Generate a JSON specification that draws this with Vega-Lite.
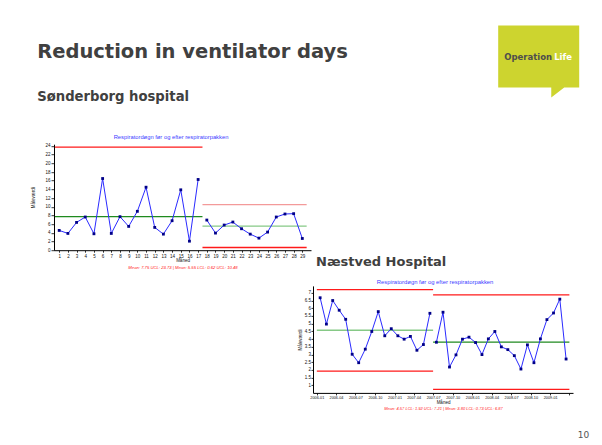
{
  "$schema": "https://vega.github.io/schema/vega-lite/v6.json",
  "padding": {"left": 30, "top": 15.5, "right": 5, "bottom": 0},
  "background": "white",
  "datasets": {
    "sData": [
      {"month": 1, "value": 4.55, "phase": "før"},
      {"month": 2, "value": 3.86, "phase": "før"},
      {"month": 3, "value": 6.4, "phase": "før"},
      {"month": 4, "value": 7.64, "phase": "før"},
      {"month": 5, "value": 3.78, "phase": "før"},
      {"month": 6, "value": 16.5, "phase": "før"},
      {"month": 7, "value": 3.86, "phase": "før"},
      {"month": 8, "value": 7.72, "phase": "før"},
      {"month": 9, "value": 5.48, "phase": "før"},
      {"month": 10, "value": 8.95, "phase": "før"},
      {"month": 11, "value": 14.5, "phase": "før"},
      {"month": 12, "value": 5.25, "phase": "før"},
      {"month": 13, "value": 3.7, "phase": "før"},
      {"month": 14, "value": 6.79, "phase": "før"},
      {"month": 15, "value": 13.9, "phase": "før"},
      {"month": 16, "value": 2.08, "phase": "før"},
      {"month": 17, "value": 16.28, "phase": "før"},
      {"month": 18, "value": 6.94, "phase": "efter"},
      {"month": 19, "value": 3.94, "phase": "efter"},
      {"month": 20, "value": 5.79, "phase": "efter"},
      {"month": 21, "value": 6.48, "phase": "efter"},
      {"month": 22, "value": 4.94, "phase": "efter"},
      {"month": 23, "value": 3.7, "phase": "efter"},
      {"month": 24, "value": 2.78, "phase": "efter"},
      {"month": 25, "value": 4.17, "phase": "efter"},
      {"month": 26, "value": 7.64, "phase": "efter"},
      {"month": 27, "value": 8.33, "phase": "efter"},
      {"month": 28, "value": 8.41, "phase": "efter"},
      {"month": 29, "value": 2.7, "phase": "efter"}
    ],
    "sLimits": [
      {"line": "UCL før", "value": 23.73, "from": 0.5, "to": 17.5},
      {"line": "Middel før", "value": 7.75, "from": 0.5, "to": 17.5},
      {"line": "UCL efter", "value": 10.48, "from": 17.5, "to": 29.5},
      {"line": "Middel efter", "value": 5.55, "from": 17.5, "to": 29.5},
      {"line": "LCL efter", "value": 0.62, "from": 17.5, "to": 29.5}
    ],
    "nData": [
      {"month": "2006-01", "value": 6.68, "phase": "før"},
      {"month": "2006-02", "value": 4.97, "phase": "før"},
      {"month": "2006-03", "value": 6.5, "phase": "før"},
      {"month": "2006-04", "value": 5.87, "phase": "før"},
      {"month": "2006-05", "value": 5.28, "phase": "før"},
      {"month": "2006-06", "value": 3.01, "phase": "før"},
      {"month": "2006-07", "value": 2.46, "phase": "før"},
      {"month": "2006-08", "value": 3.34, "phase": "før"},
      {"month": "2006-09", "value": 4.49, "phase": "før"},
      {"month": "2006-10", "value": 5.78, "phase": "før"},
      {"month": "2006-11", "value": 4.21, "phase": "før"},
      {"month": "2006-12", "value": 4.67, "phase": "før"},
      {"month": "2007-01", "value": 4.21, "phase": "før"},
      {"month": "2007-02", "value": 3.99, "phase": "før"},
      {"month": "2007-03", "value": 4.17, "phase": "før"},
      {"month": "2007-04", "value": 3.27, "phase": "før"},
      {"month": "2007-05", "value": 3.64, "phase": "før"},
      {"month": "2007-06", "value": 5.67, "phase": "før"},
      {"month": "2007-07", "value": 3.79, "phase": "efter"},
      {"month": "2007-08", "value": 5.74, "phase": "efter"},
      {"month": "2007-09", "value": 2.18, "phase": "efter"},
      {"month": "2007-10", "value": 2.97, "phase": "efter"},
      {"month": "2007-11", "value": 3.99, "phase": "efter"},
      {"month": "2007-12", "value": 4.12, "phase": "efter"},
      {"month": "2008-01", "value": 3.77, "phase": "efter"},
      {"month": "2008-02", "value": 2.99, "phase": "efter"},
      {"month": "2008-03", "value": 4.01, "phase": "efter"},
      {"month": "2008-04", "value": 4.49, "phase": "efter"},
      {"month": "2008-05", "value": 3.49, "phase": "efter"},
      {"month": "2008-06", "value": 3.31, "phase": "efter"},
      {"month": "2008-07", "value": 2.92, "phase": "efter"},
      {"month": "2008-08", "value": 2.05, "phase": "efter"},
      {"month": "2008-09", "value": 3.62, "phase": "efter"},
      {"month": "2008-10", "value": 2.46, "phase": "efter"},
      {"month": "2008-11", "value": 4.01, "phase": "efter"},
      {"month": "2008-12", "value": 5.26, "phase": "efter"},
      {"month": "2009-01", "value": 5.69, "phase": "efter"},
      {"month": "2009-02", "value": 6.59, "phase": "efter"},
      {"month": "2009-03", "value": 2.7, "phase": "efter"}
    ],
    "nLimits": [
      {"line": "UCL før", "value": 7.21, "from": "2006-01", "to": "2007-07"},
      {"line": "Middel før", "value": 4.57, "from": "2006-01", "to": "2007-07"},
      {"line": "LCL før", "value": 1.92, "from": "2006-01", "to": "2007-07"},
      {"line": "UCL efter", "value": 6.87, "from": "2007-07", "to": "2009-04"},
      {"line": "Middel efter", "value": 3.8, "from": "2007-07", "to": "2009-04"},
      {"line": "LCL efter", "value": 0.73, "from": "2007-07", "to": "2009-04"}
    ]
  },
  "title": {"text": "10", "orient": "bottom", "anchor": "end", "frame": "bounds", "offset": 20, "dx": 10, "fontSize": 9, "font": "DejaVu Sans", "fontWeight": "normal", "color": "#555555"},
  "columns": 2,
  "bounds": "flush",
  "align": {"row": "each", "column": "each"},
  "spacing": {"row": 35.7, "column": 2},
  "resolve": {"scale": {"color": "independent", "shape": "independent"}},
  "concat": [
    {
      "width": 257,
      "height": 82.6,
      "data": {"values": [{"brand": "Operation", "accent": "Life"}]},
      "mark": {"type": "point", "filled": true, "opacity": 0},
      "encoding": {
        "color": {"field": "brand", "type": "nominal", "scale": {"range": ["#cdd42f"]},
                  "legend": {"title": null, "orient": "none", "legendX": 444.2, "legendY": -9.5, "padding": 0,
                             "symbolType": "M-1,-0.765H1V0.765H0.63L0.31,1.01V0.765H-1Z", "symbolSize": 6561, "symbolOpacity": 1, "symbolStrokeWidth": 0,
                             "labelOffset": -75, "labelFont": "DejaVu Sans", "labelFontWeight": "bold", "labelFontSize": 8.5, "labelColor": "#4d4d4d", "labelBaseline": "middle"}},
        "shape": {"field": "accent", "type": "nominal",
                  "legend": {"title": null, "orient": "none", "legendX": 444.2, "legendY": -9.5, "padding": 0,
                             "symbolType": "M-1,-0.765H1V0.765H-1Z", "symbolSize": 6561, "symbolOpacity": 0, "symbolStrokeWidth": 0,
                             "labelOffset": -25, "labelFont": "DejaVu Sans", "labelFontWeight": "bold", "labelFontSize": 8.5, "labelColor": "#ffffff", "labelBaseline": "middle"}}
      },
      "title": {"text": "Reduction in ventilator days", "subtitle": "Sønderborg hospital", "anchor": "start", "frame": "group", "orient": "top", "offset": -87.7, "dx": -16.8, "font": "DejaVu Sans", "fontSize": 19.5, "fontWeight": "bold", "color": "#404040", "subtitleFont": "DejaVu Sans", "subtitleFontSize": 13.2, "subtitleFontWeight": "bold", "subtitleColor": "#404040", "subtitlePadding": 28}
    },
    {
      "width": 1,
      "height": 1,
      "data": {"values": []},
      "mark": "point"
    },
    {
      "width": 257,
      "height": 106,
      "title": {"text": "Respiratordøgn før og efter respiratorpakken", "frame": "bounds", "anchor": "middle", "offset": 3, "font": "Liberation Sans", "fontSize": 5.8, "fontWeight": "normal", "color": "#4040ff"},
      "layer": [
        {
          "data": {"name": "sLimits"},
          "mark": {"type": "rule", "strokeWidth": 1.3},
          "encoding": {
            "x": {"field": "from", "type": "quantitative", "scale": {"domain": [0.4, 30], "nice": false, "zero": false},
                  "axis": {"orient": "bottom", "title": "Mean: 7.75 UCL: 23.73 | Mean: 5.55 LCL: 0.62 UCL: 10.48", "labels": false, "ticks": false, "domain": false, "titlePadding": 15, "titleColor": "#ff2020", "titleFontStyle": "italic", "titleFontSize": 4.2}},
            "x2": {"field": "to"},
            "y": {"field": "value", "type": "quantitative", "title": "Måleværdi", "scale": {"domain": [0, 24.4], "nice": false},
                  "axis": {"values": [0, 2, 4, 6, 8, 10, 12, 14, 16, 18, 20, 22, 24], "labelFontSize": 4.5, "titleFontSize": 4.5, "tickSize": 3, "labelPadding": 1, "titlePadding": 9}},
            "color": {"field": "line", "type": "nominal", "legend": null,
                      "scale": {"domain": ["UCL før", "Middel før", "UCL efter", "Middel efter", "LCL efter"], "range": ["#ff1a1a", "#1f8a1f", "#f39a9a", "#86c986", "#ff1a1a"]}}
          }
        },
        {
          "data": {"name": "sData"},
          "encoding": {
            "x": {"field": "month", "type": "quantitative", "title": "Måned", "scale": {"domain": [0.4, 30], "nice": false, "zero": false},
                  "axis": {"orient": "bottom", "values": [1, 2, 3, 4, 5, 6, 7, 8, 9, 10, 11, 12, 13, 14, 15, 16, 17, 18, 19, 20, 21, 22, 23, 24, 25, 26, 27, 28, 29], "labelFontSize": 4.5, "titleFontSize": 4.5, "tickSize": 2, "labelPadding": 1, "titlePadding": 0, "labelFlush": false, "labelOverlap": false}},
            "y": {"field": "value", "type": "quantitative", "title": "Måleværdi", "scale": {"domain": [0, 24.4], "nice": false},
                  "axis": {"values": [0, 2, 4, 6, 8, 10, 12, 14, 16, 18, 20, 22, 24], "labelFontSize": 4.5, "titleFontSize": 4.5, "tickSize": 3, "labelPadding": 1, "titlePadding": 9}}
          },
          "layer": [
            {"mark": {"type": "line", "color": "#2a2aff", "strokeWidth": 1}, "encoding": {"detail": {"field": "phase"}}},
            {"mark": {"type": "square", "color": "#000088", "size": 8, "opacity": 1, "filled": true}}
          ]
        }
      ],
      "resolve": {"scale": {"x": "independent"}}
    },
    {
      "width": 1,
      "height": 106,
      "data": {"values": []},
      "mark": "point",
      "title": {"text": "Næstved Hospital", "orient": "bottom", "anchor": "start", "frame": "group", "offset": 5.4, "dx": 3, "font": "DejaVu Sans", "fontSize": 13, "fontWeight": "bold", "color": "#404040"}
    },
    {
      "width": 1,
      "height": 1,
      "data": {"values": []},
      "mark": "point"
    },
    {
      "width": 260,
      "height": 107,
      "title": {"text": "Respiratordøgn før og efter respiratorpakken", "frame": "bounds", "anchor": "middle", "offset": 1, "font": "Liberation Sans", "fontSize": 5.9, "fontWeight": "normal", "color": "#4040ff"},
      "layer": [
        {
          "data": {"name": "nLimits"},
          "mark": {"type": "rule", "strokeWidth": 1.3},
          "encoding": {
            "x": {"field": "from", "type": "temporal", "scale": {"type": "utc", "domain": [{"year": 2005, "month": 12, "date": 14, "utc": true}, {"year": 2009, "month": 4, "date": 18, "utc": true}]},
                  "axis": {"orient": "bottom", "title": "Mean: 4.57 LCL: 1.92 UCL: 7.21 | Mean: 3.80 LCL: 0.73 UCL: 6.87", "labels": false, "ticks": false, "domain": false, "titlePadding": 14, "titleColor": "#ff2020", "titleFontStyle": "italic", "titleFontSize": 4}},
            "x2": {"field": "to"},
            "y": {"field": "value", "type": "quantitative", "title": "Måleværdi", "scale": {"domain": [0.5, 7.45], "nice": false, "zero": false},
                  "axis": {"values": [1, 1.5, 2, 2.5, 3, 3.5, 4, 4.5, 5, 5.5, 6, 6.5, 7], "format": "~g", "labelFontSize": 4.5, "titleFontSize": 4.5, "tickSize": 2, "labelPadding": 0.5, "titlePadding": 2}},
            "color": {"field": "line", "type": "nominal", "legend": null,
                      "scale": {"domain": ["UCL før", "Middel før", "LCL før", "UCL efter", "Middel efter", "LCL efter"], "range": ["#ff1a1a", "#86c986", "#ff1a1a", "#ff1a1a", "#1f8a1f", "#ff1a1a"]}}
          }
        },
        {
          "data": {"name": "nData"},
          "encoding": {
            "x": {"field": "month", "type": "temporal", "timeUnit": "utcyearmonth", "bandPosition": 0.5, "title": "Måned",
                  "scale": {"type": "utc", "domain": [{"year": 2005, "month": 12, "date": 14, "utc": true}, {"year": 2009, "month": 4, "date": 18, "utc": true}]},
                  "axis": {"orient": "bottom",
                           "values": [{"year": 2006, "month": 1, "date": 1, "utc": true}, {"year": 2006, "month": 4, "date": 1, "utc": true}, {"year": 2006, "month": 7, "date": 1, "utc": true}, {"year": 2006, "month": 10, "date": 1, "utc": true}, {"year": 2007, "month": 1, "date": 1, "utc": true}, {"year": 2007, "month": 4, "date": 1, "utc": true}, {"year": 2007, "month": 7, "date": 1, "utc": true}, {"year": 2007, "month": 10, "date": 1, "utc": true}, {"year": 2008, "month": 1, "date": 1, "utc": true}, {"year": 2008, "month": 4, "date": 1, "utc": true}, {"year": 2008, "month": 7, "date": 1, "utc": true}, {"year": 2008, "month": 10, "date": 1, "utc": true}, {"year": 2009, "month": 1, "date": 1, "utc": true}, {"year": 2009, "month": 4, "date": 1, "utc": true}],
                           "labelExpr": "utcFormat(datum.value, '%Y-%m') === '2009-04' ? '' : utcFormat(datum.value, '%Y-%m')",
                           "labelFontSize": 3.8, "titleFontSize": 4.5, "tickSize": 2, "labelPadding": 1, "titlePadding": 0, "labelFlush": false, "labelOverlap": false}},
            "y": {"field": "value", "type": "quantitative", "title": "Måleværdi", "scale": {"domain": [0.5, 7.45], "nice": false, "zero": false},
                  "axis": {"values": [1, 1.5, 2, 2.5, 3, 3.5, 4, 4.5, 5, 5.5, 6, 6.5, 7], "format": "~g", "labelFontSize": 4.5, "titleFontSize": 4.5, "tickSize": 2, "labelPadding": 0.5, "titlePadding": 2}}
          },
          "layer": [
            {"mark": {"type": "line", "color": "#2a2aff", "strokeWidth": 1}, "encoding": {"detail": {"field": "phase"}}},
            {"mark": {"type": "square", "color": "#000088", "size": 8, "opacity": 1, "filled": true}}
          ]
        }
      ],
      "resolve": {"scale": {"x": "independent"}}
    }
  ],
  "config": {
    "view": {"stroke": null},
    "axis": {"grid": false, "domainColor": "#000000", "tickColor": "#000000", "labelColor": "#111111", "titleColor": "#111111", "labelFont": "Liberation Sans", "titleFont": "Liberation Sans", "titleFontWeight": "normal", "domainWidth": 1, "tickWidth": 0.8}
  }
}
